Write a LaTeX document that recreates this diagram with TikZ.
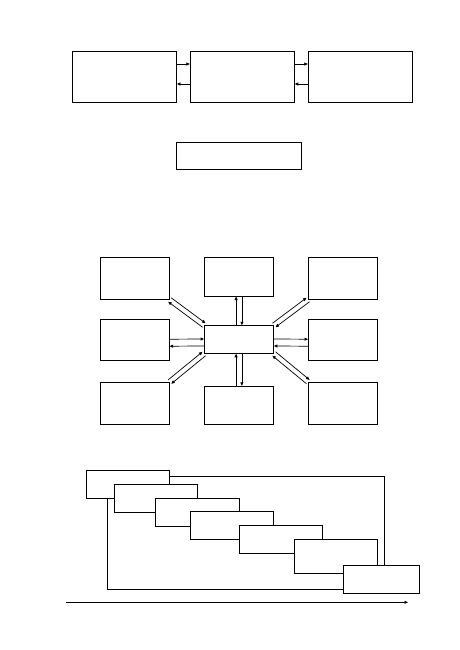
\documentclass[tikz,border=0pt]{standalone}
\usetikzlibrary{arrows.meta,calc}
\begin{document}
\begin{tikzpicture}[x=1pt,y=-1pt,
  box/.style={draw, fill=white, line width=0.9pt, inner sep=0pt},
  unit/.style={box, minimum width=104pt, minimum height=51pt},
  spoke/.style={box, minimum width=69pt, minimum height=42pt},
  phase/.style={box, minimum width=83.5pt, minimum height=28pt},
  flow/.style={-{Triangle[length=3.5pt,width=3pt]}, line width=0.7pt},
  wire/.style={line width=0.8pt},
  ]
  \useasboundingbox (0,0) rectangle (459,650);
  % ---- chain of three ------------------------------------------------------
  \node[unit] (a) at (124.5,77) {};
  \node[unit] (b) at (242.3,77) {};
  \node[unit] (c) at (360.3,77) {};
  \node[box, minimum width=125pt, minimum height=27.5pt] (d) at (238.8,155.7) {};
  \draw[flow] ([yshift=13pt]a.east) -- ([yshift=13pt]b.west);
  \draw[flow] ([yshift=-7pt]b.west) -- ([yshift=-7pt]a.east);
  \draw[flow] ([yshift=13pt]b.east) -- ([yshift=13pt]c.west);
  \draw[flow] ([yshift=-7pt]c.west) -- ([yshift=-7pt]b.east);
  % ---- star around the hub -------------------------------------------------
  \node[spoke] (tl) at (134.7,278.3) {};
  \node[spoke, minimum height=38.7pt] (tm) at (239,276.7) {};
  \node[spoke] (tr) at (343,278.3) {};
  \node[spoke, minimum height=41.3pt] (ml) at (134.7,339.7) {};
  \node[spoke, minimum height=41.3pt] (mr) at (343,339.7) {};
  \node[spoke] (bl) at (134.7,403.3) {};
  \node[spoke, minimum height=38pt] (bm) at (239,405.3) {};
  \node[spoke] (br) at (343,403.3) {};
  \node[spoke, minimum height=27.6pt] (hub) at (239,339.5) {};
  % each pair: one line out, one line back, side by side
  \foreach \o/\i/\s in {tl.south east/hub.north west/2.5pt, tr.south west/hub.north east/2.5pt,
                        bl.north east/hub.south west/2.5pt, br.north west/hub.south east/2.5pt,
                        tm.south/hub.north/2.9pt, bm.north/hub.south/2.9pt} {
    \draw[flow] ($(\o)!\s!90:(\i)$) -- ($(\i)!\s!-90:(\o)$);
    \draw[flow] ($(\i)!\s!90:(\o)$) -- ($(\o)!\s!-90:(\i)$);
  }
  \draw[flow] ([yshift=0.5pt]ml.east) -- ([yshift=0.5pt]hub.west);
  \draw[flow] ([yshift=-6.5pt]hub.west) -- ([yshift=-6.5pt]ml.east);
  \draw[flow] ([yshift=0.5pt]hub.east) -- ([yshift=0.5pt]mr.west);
  \draw[flow] ([yshift=-6.5pt]mr.west) -- ([yshift=-6.5pt]hub.east);
  % ---- staircase -----------------------------------------------------------
  \node[phase] (s1) at (127.8,484.5) {};
  \node[phase] (s2) at (155.9,498.3) {};
  \node[phase] (s3) at (197.2,512.2) {};
  \node[phase] (s4) at (232,525.9) {};
  \node[phase] (s5) at (280.7,539.5) {};
  \node[phase, minimum height=34.7pt] (s6) at (336,556.4) {};
  \node[phase, minimum width=76pt] (s7) at (381.3,579.9) {};
  \draw[wire] ([yshift=7.8pt]s1.east) -| ([xshift=3pt]s7.north);
  \draw[wire] ([xshift=-20.5pt]s1.south) |- ([yshift=-9pt]s7.west);
  \coordinate (t0) at (66,602.3);
  \coordinate (t1) at (408,602.3);
  \draw[flow] (t0) -- (t1);
\end{tikzpicture}
\end{document}
